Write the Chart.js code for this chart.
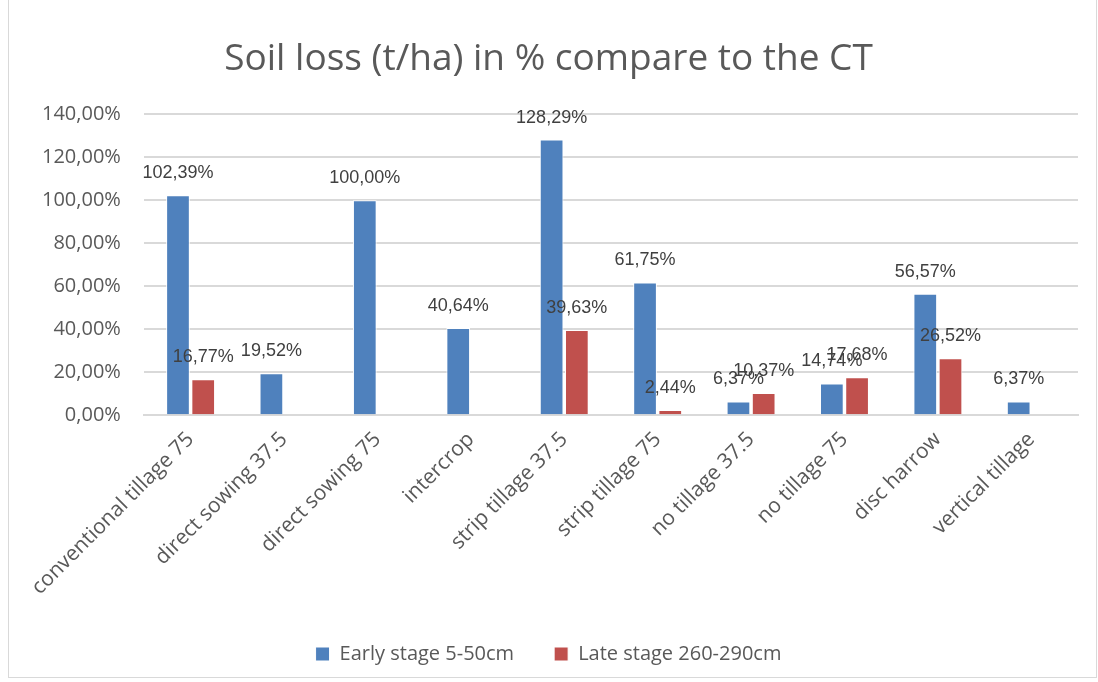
<!DOCTYPE html>
<html>
<head>
<meta charset="utf-8">
<script src="https://cdn.jsdelivr.net/npm/chart.js@4.4.0/dist/chart.umd.min.js"></script>
<style>
  html, body { margin: 0; padding: 0; background: #fff; }
  #wrap { position: absolute; left: 8px; top: -1px; width: 1089px; height: 679px;
          border: 1px solid #d9d9d9; box-sizing: border-box; }
  #box { position: absolute; left: 0; top: 0; width: 1098px; height: 682px; }
</style>
</head>
<body>
<div id="wrap"></div>
<div id="box"><canvas id="chart"></canvas></div>
<script>
/* ── Soil loss chart ── */

const CATEGORIES = ['conventional tillage 75', 'direct sowing 37.5', 'direct sowing 75', 'intercrop',
                    'strip tillage 37.5', 'strip tillage 75', 'no tillage 37.5', 'no tillage 75',
                    'disc harrow', 'vertical tillage'];
const EARLY = [102.39, 19.52, 100.00, 40.64, 128.29, 61.75, 6.37, 14.74, 56.57, 6.37];
const LATE = [16.77, null, null, null, 39.63, 2.44, 10.37, 17.68, 26.52, null];
const Y_TICKS = [0, 20, 40, 60, 80, 100, 120, 140];

const fmt = v => v.toFixed(2).replace('.', ',') + '%';
const FONT = "'Open Sans', Calibri, sans-serif";

const barLabels = {
  id: 'barLabels',
  afterDatasetsDraw(chart) {
    const ctx = chart.ctx;
    ctx.save();
    ctx.font = '18px "Liberation Sans", Arial, sans-serif';
    ctx.fillStyle = '#404040';
    ctx.textAlign = 'center';
    ctx.textBaseline = 'middle';
    chart.data.datasets.forEach((ds, i) => {
      chart.getDatasetMeta(i).data.forEach((bar, j) => {
        const v = ds.data[j];
        if (v == null) return;
        ctx.fillText(fmt(v), bar.x, bar.y - 22);
      });
    });
    ctx.restore();
  },
};

new Chart(document.getElementById('chart'), {
  type: 'bar',
  data: {
    labels: CATEGORIES,
    datasets: [
      { label: 'Early stage 5-50cm', data: EARLY, backgroundColor: '#4f81bd',
        borderColor: '#ffffff', borderWidth: 1, categoryPercentage: 0.54, barPercentage: 0.94 },
      { label: 'Late stage 260-290cm', data: LATE, backgroundColor: '#c0504d',
        borderColor: '#ffffff', borderWidth: 1, categoryPercentage: 0.54, barPercentage: 0.94 },
    ],
  },
  options: {
    responsive: true,
    maintainAspectRatio: false,
    animation: false,
    layout: { padding: { left: 19, right: 20, top: 37, bottom: 8 } },
    plugins: {
      title: {
        display: true, text: 'Soil loss (t/ha) in % compare to the CT',
        color: '#595959', font: { family: FONT, size: 37, weight: 'normal' },
        padding: { top: 0, bottom: 33 },
      },
      legend: {
        position: 'bottom',
        labels: { color: '#595959', boxWidth: 14, boxHeight: 14, padding: 40,
                  font: { family: FONT, size: 20 } },
      },
      tooltip: { enabled: false },
    },
    scales: {
      x: {
        grid: { display: false },
        border: { color: '#d9d9d9', width: 2 },
        ticks: { color: '#595959', minRotation: 45, maxRotation: 45, padding: 4,
                 font: { family: FONT, size: 21 } },
      },
      y: {
        min: 0, max: 140,
        afterBuildTicks: axis => { axis.ticks = Y_TICKS.map(v => ({ value: v })); },
        grid: { color: '#d9d9d9', lineWidth: 2, drawTicks: false },
        border: { display: false },
        ticks: { color: '#595959', padding: 23, callback: v => fmt(v),
                 font: { family: FONT, size: 20 } },
      },
    },
  },
  plugins: [barLabels],
});
</script>
</body>
</html>
